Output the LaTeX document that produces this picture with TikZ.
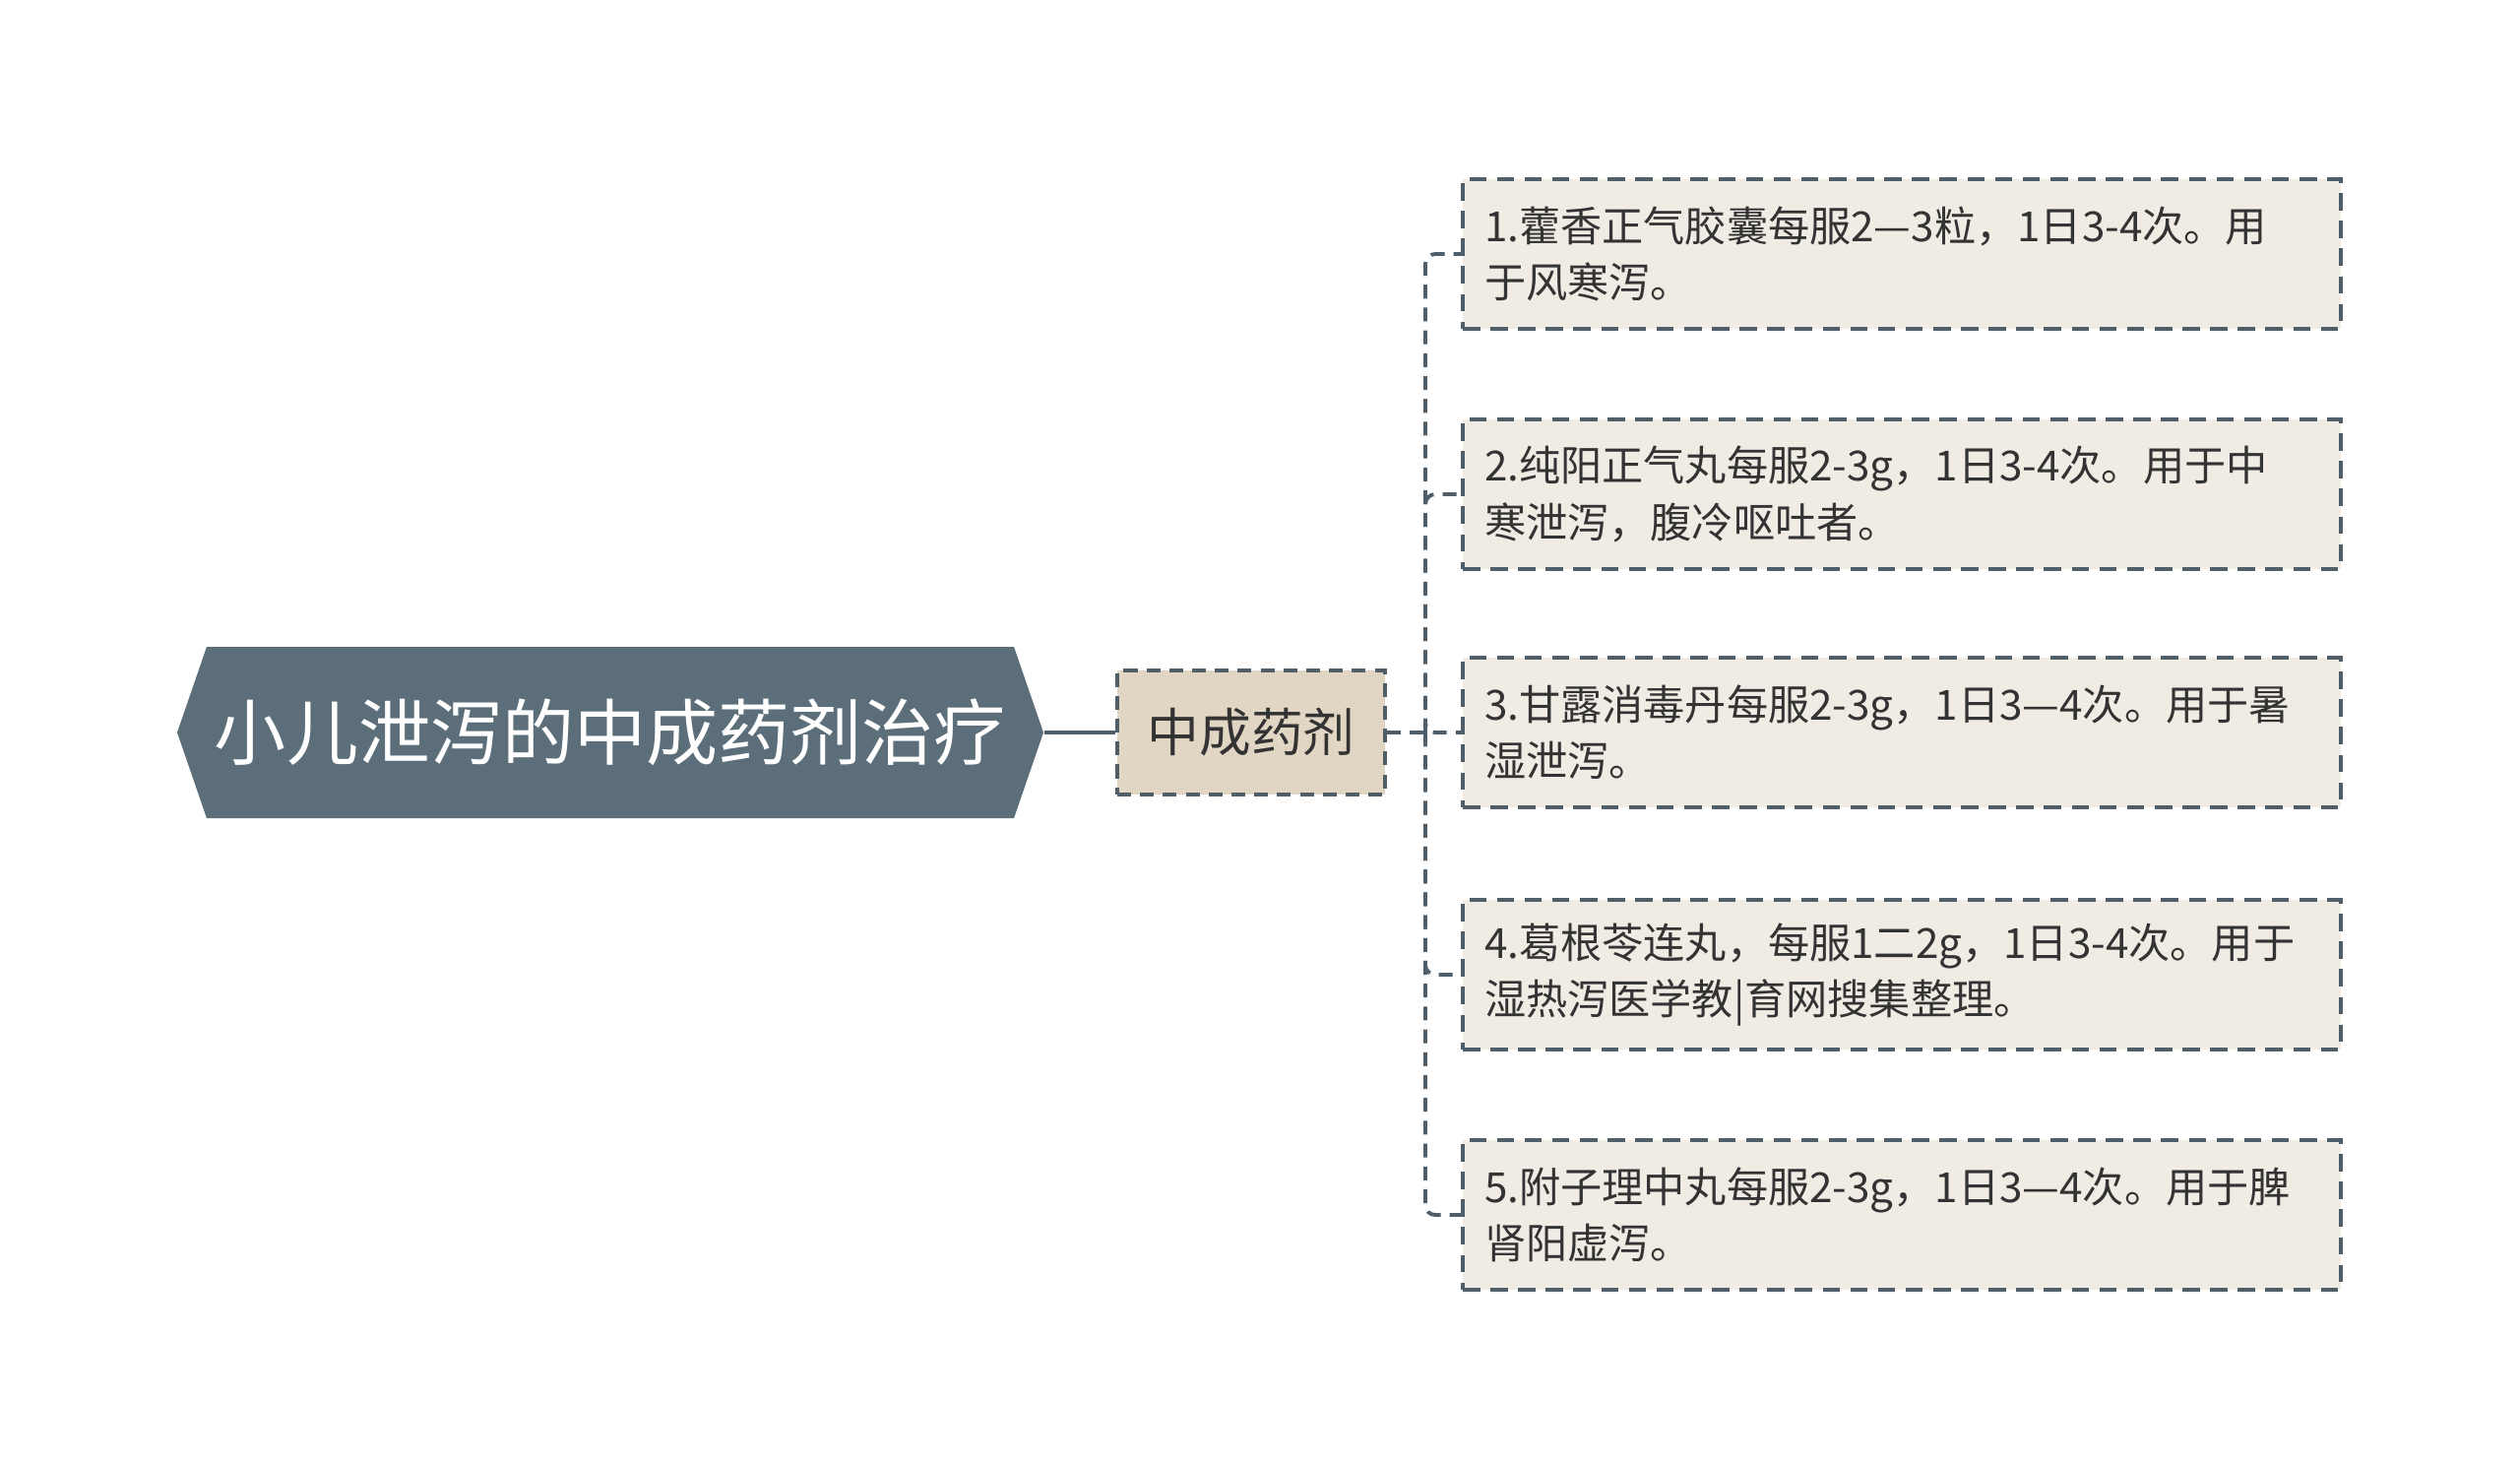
\documentclass[tikz,border=0pt]{standalone}
\usepackage{fontspec}
\setmainfont{Noto Sans CJK SC}
\usetikzlibrary{shapes.symbols}
\definecolor{rootfill}{HTML}{5B6E7A}
\definecolor{edgecol}{HTML}{4F5E69}
\definecolor{midfill}{HTML}{E1D6C4}
\definecolor{leaffill}{HTML}{F0ECE4}
\definecolor{txt}{HTML}{333333}

\begin{document}
\begin{tikzpicture}[
        root/.style={signal, signal to=west and east, signal pointer angle=142,
            fill=rootfill, text=white, minimum width=8.8cm, minimum height=1.74cm,
            inner sep=0pt, font=\fontsize{20.8}{24}\selectfont},
        mid/.style={draw=edgecol, line width=1pt, dash pattern=on 4pt off 2.6pt,
            fill=midfill, text=txt, minimum width=2.72cm, minimum height=1.26cm,
            font=\fontsize{15}{18}\selectfont},
        leaf/.style={draw=edgecol, line width=1pt, dash pattern=on 5pt off 3pt,
            fill=leaffill, text=txt, align=left, text width=8.48cm, inner xsep=0.22cm,
            minimum height=1.52cm, font=\fontsize{12}{16.3}\selectfont},
        link/.style={edgecol, line width=1.1pt, dash pattern=on 4pt off 2.6pt,
            rounded corners=0.1cm}
    ]
        \useasboundingbox (0, 0) rectangle (25.6, -14.86);
        \node [root] (R) at (6.2, -7.44) {小儿泄泻的中成药剂治疗};
        \node [mid] (M) at (12.71, -7.44) {中成药剂};
        \coordinate (T) at (14.48, -7.44);
        \node [leaf] (L1) at (19.32, -2.58) {1.藿香正气胶囊每服2—3粒，1日3-4次。用\\于风寒泻。};
        \node [leaf] (L2) at (19.32, -5.02) {2.纯阳正气丸每服2-3g，1日3-4次。用于中\\寒泄泻，腹冷呕吐者。};
        \node [leaf] (L3) at (19.32, -7.44) {3.甘露消毒丹每服2-3g，1日3—4次。用于暑\\湿泄泻。};
        \node [leaf] (L4) at (19.32, -9.90) {4.葛根苓连丸，每服1二2g，1日3-4次。用于\\湿热泻医学教|育网搜集整理。};
        \node [leaf] (L5) at (19.32, -12.34) {5.附子理中丸每服2-3g，1日3—4次。用于脾\\肾阳虚泻。};
        \draw [edgecol, line width=1.4pt] (R.east) -- (M.west);
        \draw [link] (M.east) -- (T);
        \foreach \i in {1,...,5}
            \draw [link] (T) |- (L\i.west);
\end{tikzpicture}
\end{document}
